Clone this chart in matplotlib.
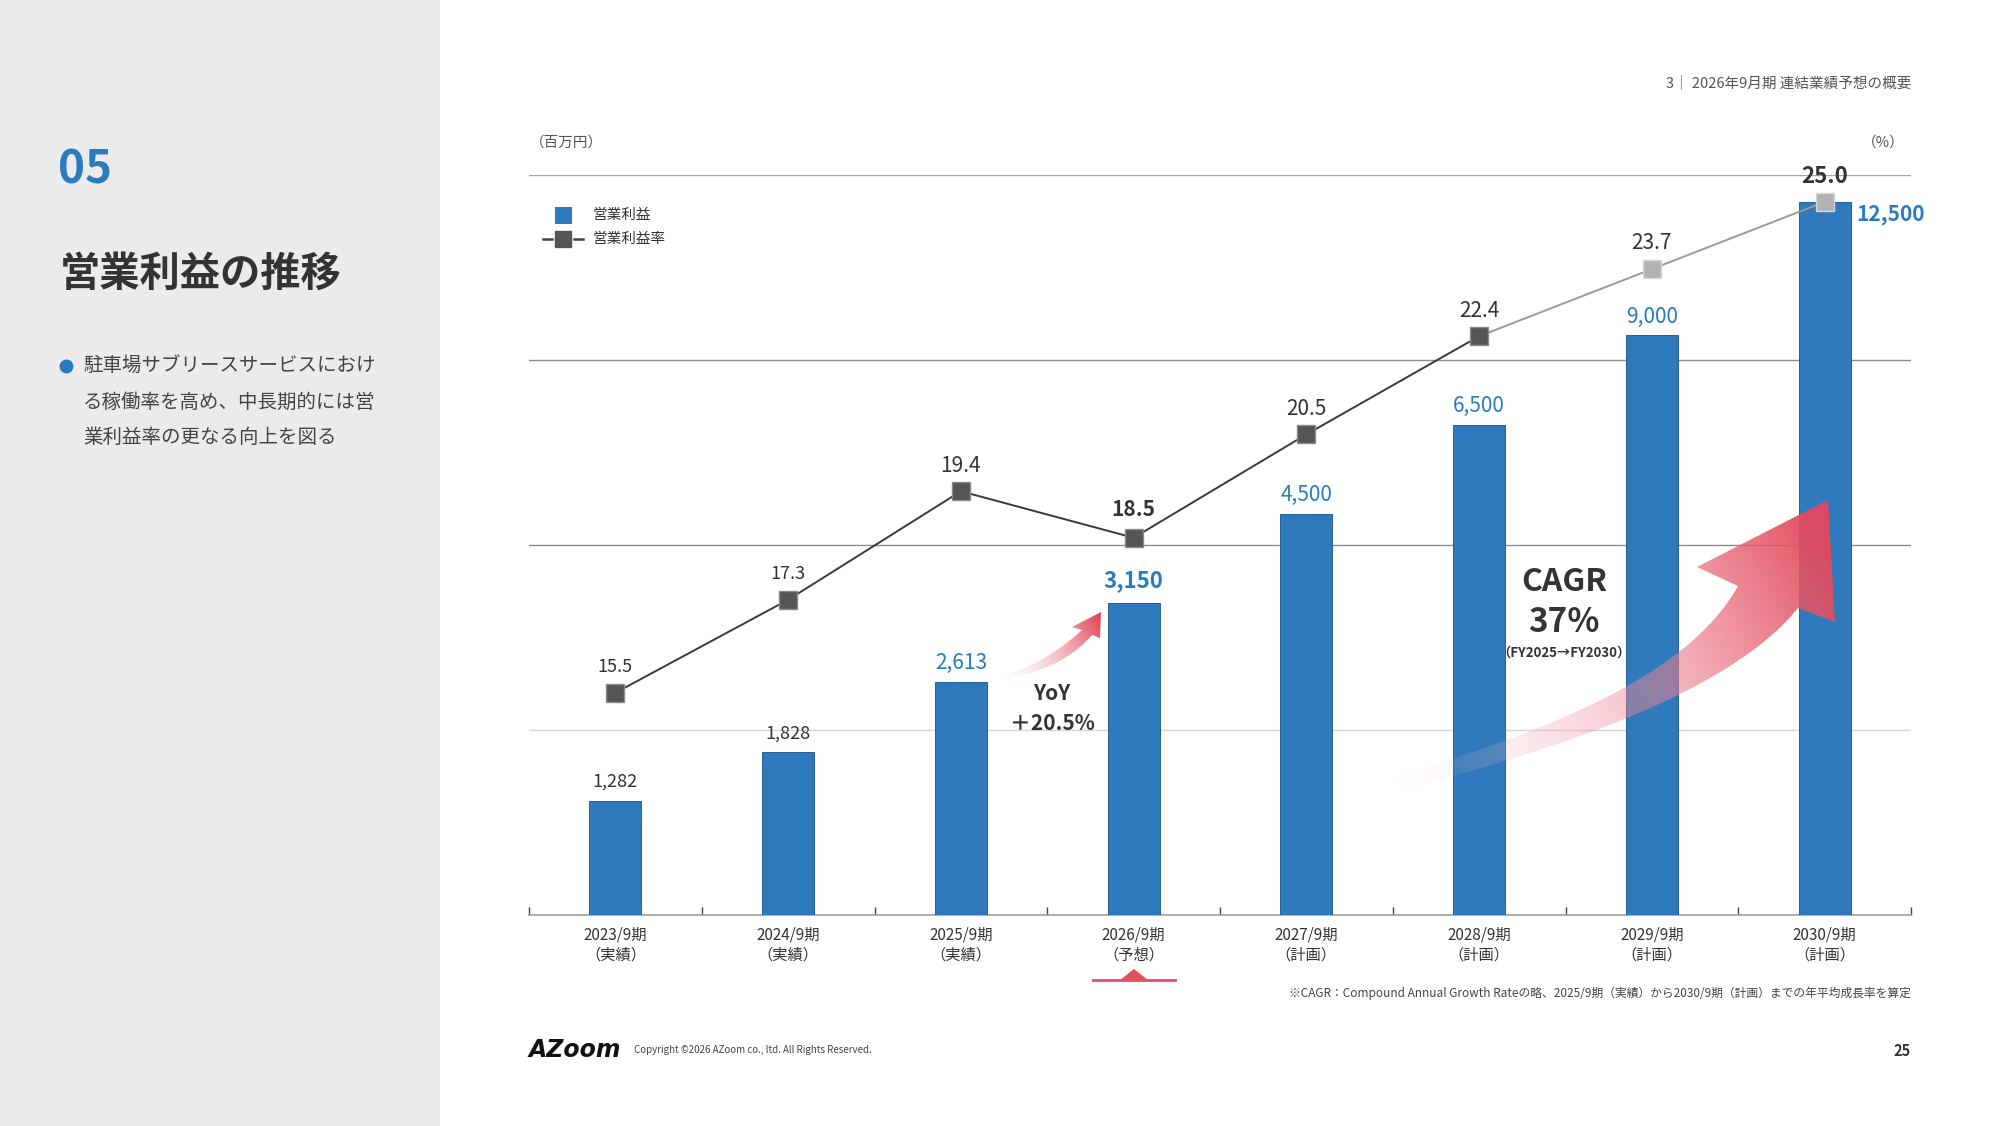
import numpy as np
import matplotlib
matplotlib.use("Agg")
import matplotlib.pyplot as plt
from matplotlib.path import Path
from matplotlib.patches import PathPatch, Rectangle

plt.rcParams['font.family'] = ['Noto Sans CJK JP', 'DejaVu Sans']

# === DATA ===
periods = ["2023/9期", "2024/9期", "2025/9期", "2026/9期",
           "2027/9期", "2028/9期", "2029/9期", "2030/9期"]
kinds = ["（実績）", "（実績）", "（実績）", "（予想）",
         "（計画）", "（計画）", "（計画）", "（計画）"]
profit = [1282, 1828, 2613, 3150, 4500, 6500, 9000, 12500]        # 営業利益 (百万円)
bar_drawn = [1282, 1828, 2613, 3500, 4500, 5500, 6500, 8000]      # bar heights as drawn in the slide
margin = [15.5, 17.3, 19.4, 18.5, 20.5, 22.4, 23.7, 25.0]         # 営業利益率 (%)

BLUE = '#2b7bbf'
DARK = '#333333'
RED = '#e0505e'

fig = plt.figure(figsize=(20, 11.26), dpi=100)
fig.patch.set_facecolor('white')

# overlay in pixel coords for slide decorations
ov = fig.add_axes([0, 0, 1, 1], zorder=5)
ov.set_xlim(0, 2000)
ov.set_ylim(1126, 0)
ov.axis('off')
ov.patch.set_alpha(0)

# left panel
bg = fig.add_axes([0, 0, 1, 1], zorder=0)
bg.axis('off')
bg.set_xlim(0, 2000)
bg.set_ylim(1126, 0)
bg.add_patch(Rectangle((0, 0), 440, 1126, color='#ebebeb', lw=0))

# === CHART ===
ax = fig.add_axes([529 / 2000, 1 - 915 / 1126, (1911 - 529) / 2000, 740 / 1126], zorder=2)
ax.patch.set_alpha(0)
x = np.arange(len(periods))
ax.bar(x, bar_drawn, width=0.30, color='#2e7abd', edgecolor='#245f94', linewidth=0.7, zorder=3)
ax.set_xlim(-0.5, len(periods) - 0.5)
ax.set_ylim(0, 8300)
for frac, col in [(0.25, '#d6d6d6'), (0.5, '#8c8c8c'), (0.75, '#8c8c8c'), (1.0, '#a6a6a6')]:
    ax.axhline(ax.get_ylim()[1] * frac, color=col, lw=1.0, zorder=1)
for s in ['top', 'left', 'right']:
    ax.spines[s].set_visible(False)
ax.spines['bottom'].set_color('#a0a0a0')
ax.spines['bottom'].set_linewidth(1.2)
ax.set_yticks([])
ax.set_xticks(x)
ax.set_xticklabels([f"{p}\n{k}" for p, k in zip(periods, kinds)], fontsize=11, color=DARK, linespacing=1.25)
ax.tick_params(axis='x', length=0, pad=8)
ax.set_xticks(np.arange(-0.5, len(periods)), minor=True)
ax.tick_params(axis='x', which='minor', direction='in', length=6, color='#444', width=1)

for i, v in enumerate(profit):
    if i < 2:
        kw = dict(fontsize=13, color=DARK)
    elif i == 3:
        kw = dict(fontsize=16, color=BLUE, fontweight='bold')
    elif i == 7:
        kw = dict(fontsize=15, color=BLUE, fontweight='bold')
    else:
        kw = dict(fontsize=15, color=BLUE)
    if i == 7:
        ax.annotate(f"{v:,}", (x[i], bar_drawn[i]), xytext=(23, -9), textcoords='offset points',
                    ha='left', va='center', zorder=6, **kw)
    else:
        off = 16 if i == 3 else 13.5
        ax.annotate(f"{v:,}", (x[i], bar_drawn[i]), xytext=(0, off), textcoords='offset points',
                    ha='center', va='center', zorder=6, **kw)

ax2 = ax.twinx()
ax2.set_ylim(11.2, 25.52)
ax2.axis('off')
ax2.plot(x[:6], margin[:6], color='#3a3a3a', lw=1.4, zorder=4)
ax2.plot(x[5:], margin[5:], color='#9a9a9a', lw=1.4, zorder=4)
ax2.plot(x[:6], margin[:6], ls='none', marker='s', ms=13, mfc='#555555', mec='#8a8a8a', mew=1, zorder=5)
ax2.plot(x[6:], margin[6:], ls='none', marker='s', ms=13, mfc='#b3b3b3', mec='#d8d8d8', mew=1, zorder=5)
for i, v in enumerate(margin):
    if i < 2:
        kw = dict(fontsize=13, color=DARK)
    elif i in (3, 7):
        kw = dict(fontsize=16 if i == 7 else 15, color=DARK, fontweight='bold')
    else:
        kw = dict(fontsize=15, color=DARK)
    off = 20 if i == 3 else 18.5
    ax2.annotate(f"{v:.1f}", (x[i], v), xytext=(0, off), textcoords='offset points',
                 ha='center', va='center', **kw)


# === GRADIENT ARROWS ===
def bez(p0, p1, p2, p3, n=60):
    t = np.linspace(0, 1, n)[:, None]
    p0, p1, p2, p3 = map(np.array, (p0, p1, p2, p3))
    return (1 - t) ** 3 * p0 + 3 * (1 - t) ** 2 * t * p1 + 3 * (1 - t) * t ** 2 * p2 + t ** 3 * p3


def grad_fill(a, verts, p0, p1, c0, c1, z):
    verts = np.vstack([verts, verts[:1]])
    path = Path(verts, closed=True)
    patch = PathPatch(path, fc='none', ec='none', transform=a.transData)
    a.add_patch(patch)
    x0, y0 = verts.min(0)
    x1, y1 = verts.max(0)
    X, Y = np.meshgrid(np.linspace(x0, x1, 400), np.linspace(y0, y1, 400))
    d = np.array(p1, float) - np.array(p0, float)
    t = ((X - p0[0]) * d[0] + (Y - p0[1]) * d[1]) / (d @ d)
    t = np.clip(t, 0, 1)[..., None]
    img = np.array(c0) * (1 - t) + np.array(c1) * t
    im = a.imshow(img, extent=[x0, x1, y0, y1], origin='lower', aspect='auto',
                  interpolation='bilinear', zorder=z)
    im.set_clip_path(patch)


# big CAGR arrow
up = bez((1388, 779), (1560, 728), (1690, 672), (1738, 586))
lo = bez((1392, 792), (1600, 740), (1740, 680), (1798, 608))
head = np.array([(1697, 567), (1828, 500), (1835, 622)])
grad_fill(ov, np.vstack([up, head, lo[::-1]]), (1400, 790), (1830, 560),
          (0.98, 0.80, 0.83, 0.0), (0.89, 0.29, 0.36, 0.95), 3)

# small YoY arrow
up = bez((1000, 676), (1030, 669), (1058, 652), (1082, 630))
lo = bez((1000, 679), (1040, 674), (1070, 660), (1092, 635))
head = np.array([(1072, 627), (1101, 612), (1100, 638)])
grad_fill(ov, np.vstack([up, head, lo[::-1]]), (1000, 678), (1100, 620),
          (0.98, 0.80, 0.83, 0.0), (0.89, 0.29, 0.36, 1.0), 3)

ov.set_xlim(0, 2000)
ov.set_ylim(1126, 0)

# === TEXTS ===
ov.text(1564, 582, "CAGR", fontsize=23, fontweight='bold', color=DARK, ha='center', va='center', zorder=6)
ov.text(1564, 622, "37%", fontsize=24, fontweight='bold', color=DARK, ha='center', va='center', zorder=6)
ov.text(1564, 653, "（FY2025→FY2030）", fontsize=9.5, fontweight='bold', color=DARK, ha='center', va='center', zorder=6)
ov.text(1052, 693, "YoY", fontsize=15, fontweight='bold', color=DARK, ha='center', va='center', zorder=6)
ov.text(1052, 723, "＋20.5%", fontsize=15, fontweight='bold', color=DARK, ha='center', va='center', zorder=6)

# left panel texts
ov.text(58, 170, "05", fontsize=33, fontweight='bold', color=BLUE, va='center')
ov.text(60, 274, "営業利益の推移", fontsize=29, fontweight='bold', color=DARK, va='center')
ov.plot(66, 366, 'o', ms=9, color=BLUE)
for yy, line in zip([366, 402, 437], ["駐車場サブリースサービスにおけ",
                                      "る稼働率を高め、中長期的には営",
                                      "業利益率の更なる向上を図る"]):
    ov.text(83, yy, line, fontsize=14, color='#444444', va='center')

# header / units
ov.text(1911, 83, "3｜ 2026年9月期 連結業績予想の概要", fontsize=10.5, color='#555555', ha='right', va='center')
ov.text(1905, 143, "（%）", fontsize=10.5, color='#555555', ha='right', va='center')
ov.text(530, 143, "（百万円）", fontsize=10.5, color='#555555', ha='left', va='center')

# legend
ov.add_patch(Rectangle((555, 207), 17, 17, color='#2e7abd', lw=0))
ov.text(593, 215, "営業利益", fontsize=10.5, color=DARK, va='center')
ov.plot([543, 552], [239, 239], color='#444444', lw=1.8)
ov.plot([574, 583], [239, 239], color='#444444', lw=1.8)
ov.plot(563, 239, 's', ms=11, mfc='#555555', mec='#555555')
ov.text(593, 239, "営業利益率", fontsize=10.5, color=DARK, va='center')

# forecast marker under 2026
ov.plot([1093, 1175], [980, 980], color=RED, lw=2)
ov.fill([1120, 1134, 1148], [980, 969, 980], color=RED, lw=0)

# footnote / footer
ov.text(1911, 993, "※CAGR：Compound Annual Growth Rateの略、2025/9期（実績）から2030/9期（計画）までの年平均成長率を算定",
        fontsize=8.5, color='#444444', ha='right', va='center')
ov.text(529, 1050, "AZoom", fontsize=17, fontweight='heavy', style='italic', family='DejaVu Sans',
        color='#111111', va='center')
ov.text(634, 1050, "Copyright ©2026 AZoom co., ltd. All Rights Reserved.", fontsize=7,
        color='#444444', va='center')
ov.text(1911, 1051, "25", fontsize=10.5, fontweight='bold', color=DARK, ha='right', va='center')

fig.savefig("out.png", dpi=100)
